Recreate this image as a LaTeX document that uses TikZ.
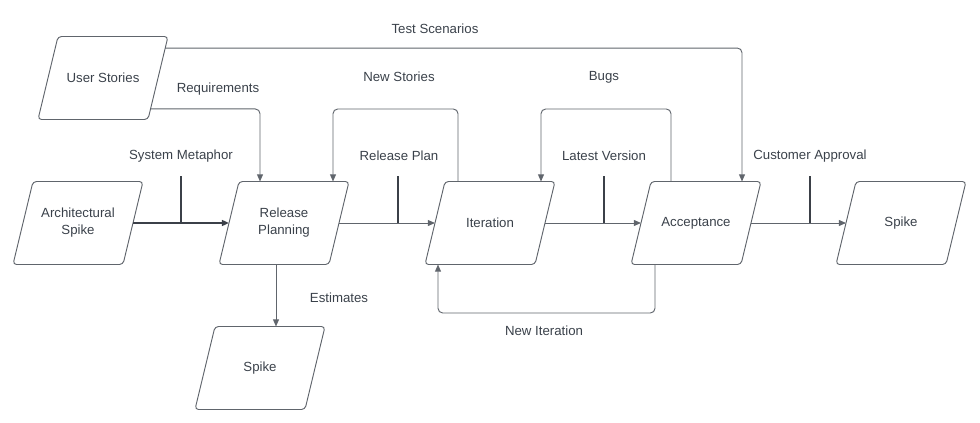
\documentclass[tikz,border=0pt]{standalone}
\usepackage{fontspec}
\setmainfont{Liberation Sans}
\usetikzlibrary{arrows.meta,positioning,calc}
\definecolor{inkgray}{HTML}{3A414A}
\definecolor{linegray}{HTML}{60656C}
\definecolor{bargray}{HTML}{3B4048}
\tikzset{
  stage/.style={rectangle, minimum width=3.3cm, minimum height=2.49cm, align=center,
    text=inkgray, inner sep=0pt, outer sep=0pt,
    append after command={\pgfextra{\draw[draw=linegray, line width=0.8pt, rounded corners=3pt]
      ([xshift=-0.3cm]\tikzlastnode.south west) -- ([xshift=0.3cm]\tikzlastnode.north west)
      -- ([xshift=0.3cm]\tikzlastnode.north east) -- ([xshift=-0.3cm]\tikzlastnode.south east)
      -- cycle;}}},
  lbl/.style={text=inkgray},
  flow/.style={->, draw=linegray, line width=0.8pt, rounded corners=4pt},
  heavy/.style={->, draw=bargray, line width=1.8pt},
  bar/.style={draw=bargray, line width=1.8pt},
}

\begin{document}
\begin{tikzpicture}[x=0.03cm, y=-0.03cm, >={Triangle[length=6pt,width=5pt]},
  font=\fontsize{11.3}{14.5}\selectfont]
  \useasboundingbox (0,0) rectangle (980,423);
  % stages
  \node[stage] (us) at (103,78) {User Stories};
  \node[stage] (arch) at (78,223) {Architectural\\Spike};
  \node[stage] (rp) at (284,223) {Release\\Planning};
  \node[stage] (it) at (490,223) {Iteration};
  \node[stage] (acc) at (696,223) {Acceptance};
  \node[stage] (spk) at (901,223) {Spike};
  \node[stage] (est) at (260,368) {Spike};

  % points on the slanted side of User Stories
  \coordinate (usreq) at ($([xshift=-0.3cm]us.south east)!0.127!([xshift=0.3cm]us.north east)$);
  \coordinate (usts) at ($([xshift=-0.3cm]us.south east)!0.861!([xshift=0.3cm]us.north east)$);

  % bend points
  \coordinate (reqx) at (260,0);
  \coordinate (tsx) at (742,0);
  \coordinate (estx) at (276,0);
  \coordinate (nsl) at (333,109);
  \coordinate (nsr) at (458,109);
  \coordinate (bgl) at (541,109);
  \coordinate (bgr) at (671,109);
  \coordinate (nil) at (438,313);
  \coordinate (nir) at (655,313);

  % main line
  \draw[heavy] (arch) -- (rp);
  \draw[flow] (rp) -- (it);
  \draw[flow] (it) -- (acc);
  \draw[flow] (acc) -- (spk);

  % loops and side flows
  \draw[flow] (usreq) -| (rp.north -| reqx);
  \draw[flow] (usts) -| (acc.north -| tsx);
  \draw[flow] (it.north -| nsr) -- (nsr) -- (nsl) -- (rp.north -| nsl);
  \draw[flow] (acc.north -| bgr) -- (bgr) -- (bgl) -- (it.north -| bgl);
  \draw[flow] (acc.south -| nir) -- (nir) -- (nil) -- (it.south -| nil);
  \draw[flow] (rp.south -| estx) -- (est.north -| estx);

  % bars
  \coordinate (smtop) at (181,176);
  \coordinate (rptop) at (398,176);
  \coordinate (lvtop) at (604,176);
  \coordinate (catop) at (810,176);
  \draw[bar] (smtop) -- (smtop |- arch.center);
  \draw[bar] (rptop) -- (rptop |- rp.center);
  \draw[bar] (lvtop) -- (lvtop |- it.center);
  \draw[bar] (catop) -- (catop |- acc.center);

  % labels
  \node[lbl] (tsl) at (435,29) {Test Scenarios};
  \node[lbl] (reql) at (218,89) {Requirements};
  \node[lbl] (nsll) at (399,77) {New Stories};
  \node[lbl] (bgll) at (604,77) {Bugs};
  \node[lbl] (sml) at (181,156) {System Metaphor};
  \node[lbl] (rpl) at (399,156) {Release Plan};
  \node[lbl] (lvl) at (604,156) {Latest Version};
  \node[lbl] (cal) at (810,156) {Customer Approval};
  \node[lbl] (estl) at (339,298) {Estimates};
  \node[lbl] (nill) at (544,331) {New Iteration};
\end{tikzpicture}
\end{document}
